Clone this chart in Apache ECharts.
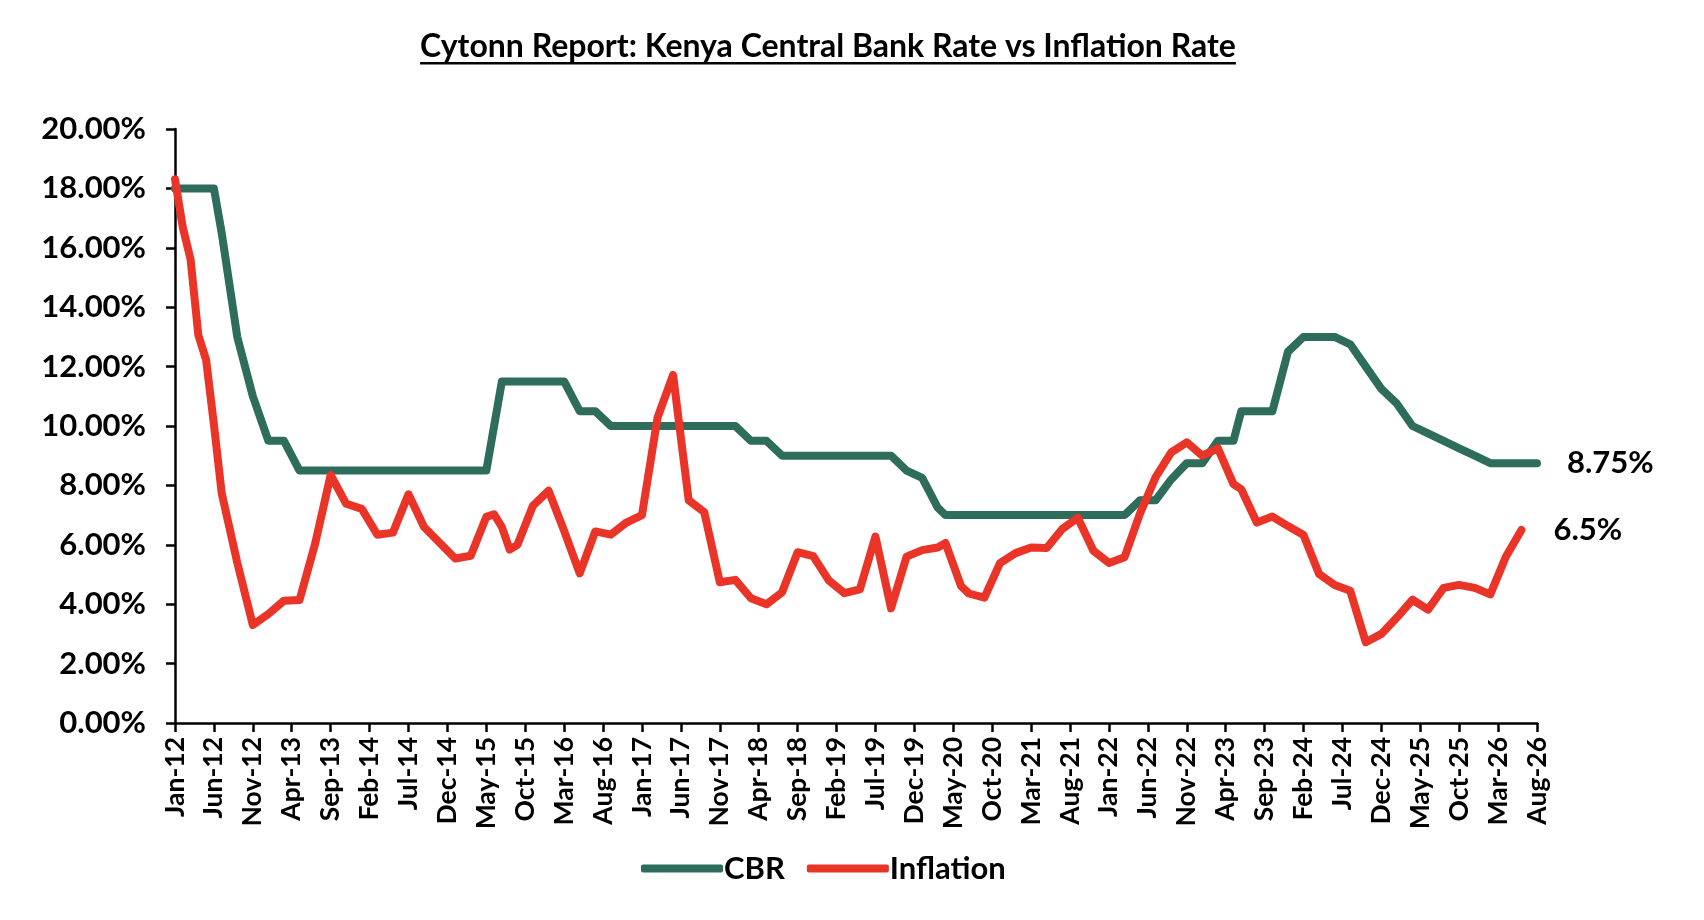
<!DOCTYPE html>
<html>
<head>
<meta charset="utf-8">
<script src="https://cdn.jsdelivr.net/npm/echarts@6/dist/echarts.min.js"></script>
<style>
html,body{margin:0;padding:0;background:#fff;}
#chart{width:1704px;height:920px;}
</style>
</head>
<body>
<div id="chart"></div>
<script>
const pointMonths = [
  'Jan-12','Feb-12','Mar-12','Apr-12','May-12','Jun-12','Jul-12','Sep-12','Nov-12',
  'Jan-13','Mar-13','May-13','Jul-13','Sep-13','Nov-13',
  'Jan-14','Mar-14','May-14','Jul-14','Sep-14','Nov-14',
  'Jan-15','Mar-15','May-15','Jun-15','Jul-15','Aug-15','Sep-15','Nov-15',
  'Jan-16','Mar-16','May-16','Jul-16','Sep-16','Nov-16',
  'Jan-17','Mar-17','May-17','Jul-17','Sep-17','Nov-17',
  'Jan-18','Mar-18','May-18','Jul-18','Sep-18','Nov-18',
  'Jan-19','Mar-19','May-19','Jul-19','Sep-19','Nov-19',
  'Jan-20','Mar-20','Apr-20','Jun-20','Jul-20','Sep-20','Nov-20',
  'Jan-21','Mar-21','May-21','Jul-21','Sep-21','Nov-21',
  'Jan-22','Mar-22','May-22','Jul-22','Sep-22','Nov-22',
  'Jan-23','Mar-23','May-23','Jun-23','Aug-23','Oct-23','Dec-23',
  'Feb-24','Apr-24','Jun-24','Aug-24','Oct-24','Dec-24',
  'Feb-25','Apr-25','Jun-25','Aug-25','Oct-25','Dec-25',
  'Feb-26','Apr-26','Jun-26','Aug-26'
];

const cbrValues = [
  18,18,18,18,18,18,16.5,13,11,
  9.5,9.5,8.5,8.5,8.5,8.5,
  8.5,8.5,8.5,8.5,8.5,8.5,
  8.5,8.5,8.5,10,11.5,11.5,11.5,11.5,
  11.5,11.5,10.5,10.5,10,10,
  10,10,10,10,10,10,
  10,9.5,9.5,9,9,9,
  9,9,9,9,9,8.5,
  8.25,7.25,7,7,7,7,7,
  7,7,7,7,7,7,
  7,7,7.5,7.5,8.2,8.75,
  8.75,9.5,9.5,10.5,10.5,10.5,12.5,
  13,13,13,12.75,12,11.25,
  10.75,10,9.75,9.5,9.25,9,
  8.75,8.75,8.75,8.75
];

const inflationValues = [
  18.31,16.69,15.61,13.06,12.22,10.05,7.74,5.4,3.3,
  3.67,4.12,4.14,6.03,8.35,7.38,
  7.21,6.34,6.41,7.7,6.6,6.07,
  5.54,5.63,6.94,7.03,6.6,5.84,6.0,7.32,
  7.82,6.47,5.04,6.45,6.34,6.75,
  7.0,10.28,11.72,7.5,7.1,4.74,
  4.82,4.2,4.0,4.4,5.75,5.62,
  4.8,4.37,4.5,6.28,3.86,5.6,
  5.82,5.91,6.06,4.61,4.36,4.22,5.38,
  5.72,5.91,5.89,6.53,6.91,5.8,
  5.39,5.58,7.06,8.28,9.11,9.45,
  9.0,9.25,8.04,7.87,6.75,6.95,6.63,
  6.33,5.02,4.65,4.45,2.72,3.0,
  3.55,4.15,3.82,4.55,4.65,4.55,
  4.33,5.6,6.5,null
];

const endLabels = {CBR: '8.75%', Inflation: '6.5%'};

const monthNames = ['Jan','Feb','Mar','Apr','May','Jun','Jul','Aug','Sep','Oct','Nov','Dec'];
const firstYear = 12, lastYear = 26, lastMonthIdx = 7; // axis runs Jan-12 .. Aug-26

const yTicks = [0,2,4,6,8,10,12,14,16,18,20];
const titleText = 'Cytonn Report: Kenya Central Bank Rate vs Inflation Rate';

// build month categories for the axis
const categories = [];
for (let y = firstYear; y <= lastYear; y++) {
  for (let m = 0; m < 12; m++) {
    if (y === lastYear && m > lastMonthIdx) break;
    categories.push(monthNames[m] + '-' + y);
  }
}

function buildSeries(values) {
  const arr = categories.map(() => null);
  pointMonths.forEach((d, k) => {
    const idx = categories.indexOf(d);
    if (idx >= 0 && values[k] !== null && values[k] !== undefined) arr[idx] = values[k];
  });
  return arr;
}

const FONT = 'Lato';
const chart = echarts.init(document.getElementById('chart'), null, {renderer: 'canvas'});

// measure title width for underline
const TITLE_FONT = 'bold 32px Lato';
const cv = document.createElement('canvas').getContext('2d');
cv.font = TITLE_FONT;
const titleW = cv.measureText(titleText).width;
const titleCx = 828;

const endLabelStyle = (name, dist) => ({
  show: true, distance: dist,
  formatter: endLabels[name],
  fontFamily: FONT, fontWeight: 'bold', fontSize: 31, color: '#000'
});

const option = {
  backgroundColor: '#fff',
  animation: false,
  textStyle: {fontFamily: FONT},
  grid: {left: 175, right: 167, top: 129, bottom: 197, containLabel: false},
  graphic: [
    {type: 'text', x: titleCx, y: 47,
     style: {text: titleText, font: TITLE_FONT, fill: '#000',
             align: 'center', verticalAlign: 'middle', textAlign: 'center', textVerticalAlign: 'middle'}},
    {type: 'rect', shape: {x: titleCx - titleW / 2, y: 62, width: titleW, height: 2.5},
     style: {fill: '#000'}}
  ],
  legend: {
    left: 636, top: 848,
    icon: 'roundRect',
    itemWidth: 82, itemHeight: 8, itemGap: 22,
    textStyle: {fontFamily: FONT, fontWeight: 'bold', fontSize: 31, color: '#000', padding: [0,0,0,-4]},
    data: ['CBR', 'Inflation']
  },
  xAxis: {
    type: 'category',
    boundaryGap: false,
    data: categories,
    axisLine: {show: true, lineStyle: {color: '#000', width: 2.5}},
    axisTick: {show: true, interval: 4, length: 9, lineStyle: {color: '#000', width: 2.5}},
    axisLabel: {interval: 4, rotate: 90, margin: 14, fontFamily: FONT, fontWeight: 'bold',
                fontSize: 26.5, color: '#000'},
    splitLine: {show: false}
  },
  yAxis: {
    type: 'value',
    min: yTicks[0], max: yTicks[yTicks.length - 1], interval: 2,
    axisLine: {show: true, lineStyle: {color: '#000', width: 2.5}},
    axisTick: {show: true, length: 9, lineStyle: {color: '#000', width: 2.5}},
    axisLabel: {margin: 29, fontFamily: FONT, fontWeight: 'bold', fontSize: 31, color: '#000',
                formatter: v => v.toFixed(2) + '%'},
    splitLine: {show: false}
  },
  series: [
    {name: 'CBR', type: 'line', data: buildSeries(cbrValues),
     connectNulls: true, symbol: 'none', showSymbol: false,
     lineStyle: {color: '#2E6C5B', width: 8, join: 'round', cap: 'round'},
     itemStyle: {color: '#2E6C5B'}, z: 2,
     endLabel: endLabelStyle('CBR', 30)},
    {name: 'Inflation', type: 'line', data: buildSeries(inflationValues),
     connectNulls: true, symbol: 'none', showSymbol: false,
     lineStyle: {color: '#E93427', width: 8, join: 'round', cap: 'round'},
     itemStyle: {color: '#E93427'}, z: 3,
     endLabel: endLabelStyle('Inflation', 32)}
  ]
};
chart.setOption(option);
</script>
</body>
</html>
